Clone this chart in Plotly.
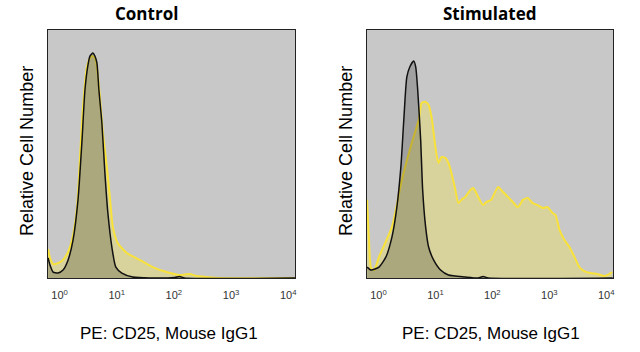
import plotly.graph_objects as go

# ---------------- data (fluorescence intensity, relative count %) ----------------
ctrl_iso_x = [0.63, 0.68, 0.77, 0.94, 1.15, 1.41, 1.72, 2.10, 2.47, 2.78, 3.14, 3.40, 3.84,
              4.15, 4.50, 4.88, 5.50, 6.21, 7.00, 8.22, 9.64, 12.3, 19.1, 37.7, 103, 126, 153, 13200]
ctrl_iso_y = [8.1, 5.2, 2.4, 2.0, 3.2, 7.3, 15.3, 31.5, 55.6, 75.8, 85.9, 89.5, 90.7,
              89.5, 86.7, 75.8, 62.5, 42.3, 26.2, 12.5, 4.4, 2.0, 0.4, 0.0, 0.2, 0.6, 0.0, 0.0]

ctrl_cd25_x = [0.63, 0.68, 0.77, 0.94, 1.15, 1.41, 1.65, 2.02, 2.28, 2.57, 3.01, 3.40, 3.68,
               4.15, 4.50, 5.08, 5.73, 6.72, 7.58, 8.55, 10.4, 15.0, 25.3, 42.6, 74.6, 126,
               188, 249, 371, 625, 13200]
ctrl_cd25_y = [11.7, 8.1, 5.6, 6.0, 7.3, 10.5, 15.3, 28.6, 48.8, 69.0, 85.1, 88.7, 89.5,
               88.7, 85.1, 73.0, 58.5, 44.8, 32.7, 20.6, 14.1, 10.1, 7.3, 4.4, 2.4, 1.2,
               1.6, 0.8, 0.4, 0.0, 0.0]

stim_iso_x = [0.63, 0.74, 1.02, 1.35, 1.72, 2.10, 2.47, 2.78, 3.14, 3.54, 4.15, 4.50, 4.88,
              5.50, 5.96, 6.72, 7.58, 9.27, 12.3, 16.9, 33.5, 56.3, 68.9, 84.2, 13000]
stim_iso_y = [4.4, 3.2, 4.4, 8.5, 16.5, 28.6, 44.8, 63.7, 81.0, 85.1, 87.5, 85.1, 75.8,
              55.6, 35.5, 20.6, 12.5, 7.3, 3.2, 1.2, 0.4, 0.0, 0.6, 0.0, 0.0]

stim_cd25_x = [0.63, 0.68, 0.74, 0.84, 1.02, 1.72, 2.57, 3.83, 5.08, 5.73, 6.72, 7.58, 8.54,
               10.0, 11.3, 12.8, 15.0, 16.9, 19.1, 22.4, 25.3, 28.5, 33.5, 40.9, 46.1, 56.3,
               68.9, 77.7, 94.9, 126, 154, 188, 230, 280, 343, 419, 512, 625, 764, 934,
               1141, 1288, 1511, 1848, 2259, 2760, 3373, 4121, 5244, 6938, 9189, 11240, 12670]
stim_cd25_y = [31.5, 15.3, 4.0, 3.2, 8.5, 20.6, 39.5, 54.4, 63.7, 70.6, 71.0, 69.8, 64.9,
               52.8, 46.4, 48.8, 48.4, 46.4, 42.3, 35.5, 30.2, 31.5, 32.7, 35.5, 36.3, 32.7,
               29.4, 30.6, 31.5, 36.7, 34.7, 32.7, 30.6, 28.6, 31.5, 32.3, 30.2, 29.4, 28.2, 28.6,
               26.2, 25.4, 19.4, 15.3, 12.5, 8.5, 4.4, 2.8, 2.0, 1.6, 0.8, 1.6, 2.4]

tick_vals = [1, 10, 100, 1000, 10000]
tick_text = ["10<sup>0</sup>", "10<sup>1</sup>", "10<sup>2</sup>", "10<sup>3</sup>", "10<sup>4</sup>"]
panel_titles = ["Control", "Stimulated"]
x_title = "PE: CD25, Mouse IgG1"
y_title = "Relative Cell Number"

# ---------------- styling ----------------
YEL_LINE = "#f8e23a"
YEL_FILL = "rgba(255,235,60,0.30)"
BLK_LINE = "#111111"
BLK_FILL = "rgba(0,0,0,0.20)"
BG = "#c8c8c8"

fig = go.Figure()

panels = [
    (ctrl_cd25_x, ctrl_cd25_y, ctrl_iso_x, ctrl_iso_y, "x", "y"),
    (stim_cd25_x, stim_cd25_y, stim_iso_x, stim_iso_y, "x2", "y2"),
]
for cx, cy, ix, iy, xa, ya in panels:
    fig.add_trace(go.Scatter(x=cx, y=cy, xaxis=xa, yaxis=ya, mode="lines",
                             line=dict(color=YEL_LINE, width=2, shape="spline", smoothing=0.6),
                             fill="tozeroy", fillcolor=YEL_FILL, showlegend=False,
                             hoverinfo="skip"))
    fig.add_trace(go.Scatter(x=ix, y=iy, xaxis=xa, yaxis=ya, mode="lines",
                             line=dict(color=BLK_LINE, width=1.5, shape="spline", smoothing=0.6),
                             fill="tozeroy", fillcolor=BLK_FILL, showlegend=False,
                             hoverinfo="skip"))

W, H = 640, 352
doms = [(48 / W, 296 / W), (368 / W, 615 / W)]
ydom = [(H - 278) / H, (H - 30) / H]

xaxis_common = dict(type="log", range=[-0.205, 4.12], tickvals=tick_vals, ticktext=tick_text,
                    showgrid=False, zeroline=False, showline=True, mirror=True,
                    linecolor="#222222", linewidth=1, ticks="", ticklabelstandoff=7,
                    tickfont=dict(family="Liberation Sans, Arial", size=11, color="#333333"))
yaxis_common = dict(range=[0, 100], showgrid=False, zeroline=False, showline=True, mirror=True,
                    linecolor="#222222", linewidth=1, showticklabels=False, ticks="")

fig.update_layout(
    width=W, height=H,
    margin=dict(l=0, r=0, t=0, b=0),
    paper_bgcolor="white",
    plot_bgcolor=BG,
    xaxis=dict(domain=doms[0], anchor="y", **xaxis_common),
    yaxis=dict(domain=ydom, anchor="x", **yaxis_common),
    xaxis2=dict(domain=doms[1], anchor="y2", **xaxis_common),
    yaxis2=dict(domain=ydom, anchor="x2", **yaxis_common),
)

annots = []
title_x = [147 / W, 491 / W]
ytitle_x = [27 / W, 347 / W]
xtitle_x = [170 / W, 493 / W]
for i in range(2):
    annots.append(dict(text="<b>" + panel_titles[i] + "</b>", x=title_x[i], y=(H - 13) / H,
                       xref="paper", yref="paper", showarrow=False, xanchor="center", yanchor="middle",
                       font=dict(family="Open Sans", size=17, color="black")))
    annots.append(dict(text=y_title, x=ytitle_x[i], y=(H - 151) / H, textangle=-90,
                       xref="paper", yref="paper", showarrow=False, xanchor="center", yanchor="middle",
                       font=dict(family="Liberation Sans, Arial", size=18, color="black")))
    annots.append(dict(text=x_title, x=xtitle_x[i], y=(H - 333) / H,
                       xref="paper", yref="paper", showarrow=False, xanchor="center", yanchor="middle",
                       font=dict(family="Liberation Sans, Arial", size=17, color="black")))
fig.update_layout(annotations=annots)

fig.write_html("out.html")
